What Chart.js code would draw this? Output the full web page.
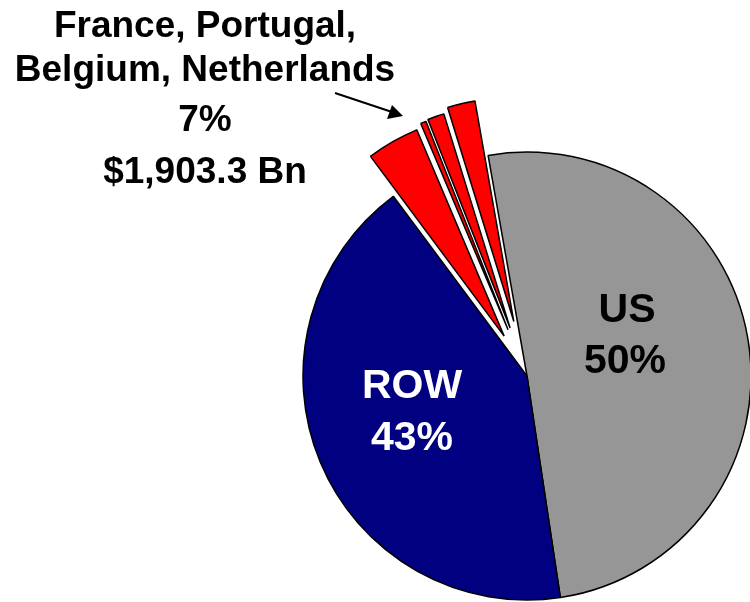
<!DOCTYPE html>
<html>
<head>
<meta charset="utf-8">
<script src="https://cdn.jsdelivr.net/npm/chart.js@4"></script>
<style>
  html, body { margin: 0; padding: 0; background: #fff; }
  #wrap { position: relative; width: 750px; height: 602px; }
</style>
</head>
<body>
<div id="wrap"><canvas id="pieChart" width="750" height="602"></canvas></div>
<script>
// Market shares (percent of total)
const labels = ['US', 'ROW', 'France', 'Portugal', 'Belgium', 'Netherlands'];
const shares = [50.4, 42.2, 3.8, 0.4, 1.2, 2.0];
const colors = ['#969696', '#000080', '#ff0000', '#ff0000', '#ff0000', '#ff0000'];
// how far each slice is pulled out (px), radius stays the same
const explode = [0, 0, 46, 50, 51, 56];

// Text shown on the chart
const bigLabels = { US: ['US', '50%'], ROW: ['ROW', '43%'] };
const calloutLines = ['France, Portugal,', 'Belgium, Netherlands', '7%', '$1,903.3 Bn'];

const FONT = 'bold 37px "Liberation Sans", Arial, sans-serif';

// Pull out slices without growing them (Chart.js offset also enlarges the arc)
const explodePlugin = {
  id: 'explodePlugin',
  afterDatasetsUpdate(chart) {
    const meta = chart.getDatasetMeta(0);
    meta.data.forEach((arc, i) => {
      const d = explode[i];
      if (!d) return;
      const mid = (arc.startAngle + arc.endAngle) / 2;
      arc.x += Math.cos(mid) * d;
      arc.y += Math.sin(mid) * d;
    });
  }
};

// Draw slice labels, callout text and arrow
const labelPlugin = {
  id: 'labelPlugin',
  afterDraw(chart) {
    const ctx = chart.ctx;
    ctx.save();
    ctx.textAlign = 'center';
    ctx.textBaseline = 'alphabetic';

    ctx.font = 'bold 41px "Liberation Sans", Arial, sans-serif';
    ctx.fillStyle = '#000';
    ctx.fillText(bigLabels.US[0], 627, 322);
    ctx.fillText(bigLabels.US[1], 625, 373);
    ctx.fillStyle = '#fff';
    ctx.fillText(bigLabels.ROW[0], 412, 398);
    ctx.fillText(bigLabels.ROW[1], 412, 450);

    ctx.font = FONT;
    ctx.fillStyle = '#000';
    const ys = [37, 81, 131, 183];
    calloutLines.forEach((t, i) => ctx.fillText(t, 205, ys[i]));

    // arrow
    ctx.strokeStyle = '#000';
    ctx.lineWidth = 2;
    ctx.beginPath();
    ctx.moveTo(335, 93);
    ctx.lineTo(392, 112);
    ctx.stroke();
    ctx.beginPath();
    ctx.moveTo(403, 116);
    ctx.lineTo(387, 119);
    ctx.lineTo(392, 105);
    ctx.closePath();
    ctx.fillStyle = '#000';
    ctx.fill();
    ctx.restore();
  }
};

new Chart(document.getElementById('pieChart').getContext('2d'), {
  type: 'pie',
  data: {
    labels: labels,
    datasets: [{
      data: shares,
      backgroundColor: colors,
      borderColor: '#000',
      borderWidth: 1.5,
      hoverOffset: 0,
      clip: false
    }]
  },
  options: {
    responsive: false,
    animation: false,
    rotation: -10,
    radius: 224,
    layout: { padding: { left: 304, right: 0, top: 150, bottom: 0 } },
    plugins: {
      legend: { display: false },
      tooltip: { enabled: false }
    }
  },
  plugins: [explodePlugin, labelPlugin]
});
</script>
</body>
</html>
